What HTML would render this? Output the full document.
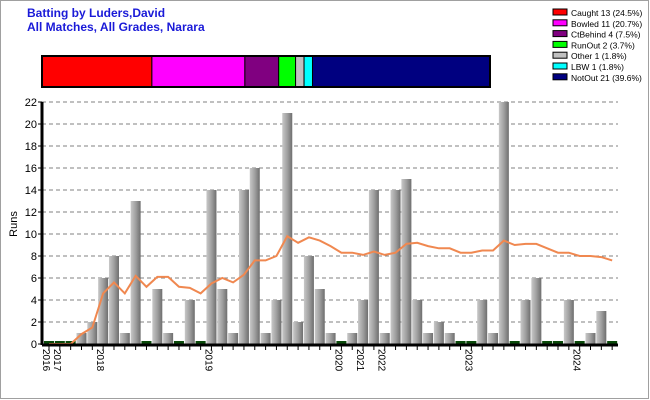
<!DOCTYPE html>
<html><head><meta charset="utf-8"><style>
body{margin:0;background:#fff;font-family:"Liberation Sans",Arial,sans-serif}
#wrap{position:relative;width:650px;height:400px;overflow:hidden}
</style></head><body>
<div id="wrap">
<svg id="chart" width="650" height="400" xmlns="http://www.w3.org/2000/svg">
<defs>
<linearGradient id="barGrad" x1="0" x2="1" y1="0" y2="0">
<stop offset="0" stop-color="#c8c8c8"/><stop offset="0.5" stop-color="#a0a0a0"/><stop offset="1" stop-color="#6e6e6e"/>
</linearGradient>
</defs>
<rect x="0.5" y="0.5" width="648" height="398" fill="#fff" stroke="#a0a0a0"/>
<text x="27" y="17" font-size="12" font-weight="bold" fill="#1a1ad8">Batting by Luders,David</text>
<text x="27" y="31" font-size="12" font-weight="bold" fill="#1a1ad8">All Matches, All Grades, Narara</text>
<g id="stack"></g>
<g id="legend"></g>
<g id="grid"></g>
<g id="bars"></g>
<g id="line"></g>
<g id="axes"></g>
<text transform="translate(17,224) rotate(-90)" text-anchor="middle" font-size="11" fill="#000">Runs</text>
</svg>
</div>
<script>
const runs=[0,0,0,1,2,6,8,1,13,0,5,1,0,4,0,14,5,1,14,16,1,4,21,2,8,5,1,0,1,4,14,1,14,15,4,1,2,1,0,0,4,1,22,0,4,6,0,0,4,0,1,3,0];
const avgLine=[0,0,0,0.9,1.5,4.6,5.6,4.6,6.2,5.2,6.1,6.1,5.2,5.1,4.6,5.5,6.0,5.6,6.3,7.6,7.6,8.0,9.8,9.2,9.7,9.4,8.9,8.3,8.3,8.1,8.4,8.1,8.3,9.1,9.2,8.9,8.7,8.7,8.3,8.3,8.5,8.5,9.4,9.0,9.1,9.1,8.7,8.3,8.3,8.0,8.0,7.9,7.6];
const yearLabels=["2016","2017","2018","2019","2020","2021","2022","2023","2024"];
const yearSlots=[0,1,5,15,27,29,31,39,49];
const yTicks=[0,2,4,6,8,10,12,14,16,18,20,22];
const dismissLabels=["Caught 13 (24.5%)","Bowled 11 (20.7%)","CtBehind 4 (7.5%)","RunOut 2 (3.7%)","Other 1 (1.8%)","LBW 1 (1.8%)","NotOut 21 (39.6%)"];
const dismissCounts=[13,11,4,2,1,1,21];
const dismissColors=["#ff0000","#ff00ff","#800080","#00ff00","#c0c0c0","#00ffff","#000080"];

const NS="http://www.w3.org/2000/svg";
function mk(tag,attrs,parent){const e=document.createElementNS(NS,tag);for(const k in attrs)e.setAttribute(k,attrs[k]);parent.appendChild(e);return e;}
const X0=42,X1=618,Y0=344,YT=102,YMAX=22;
const slot=(X1-X0-6)/ (runs.length-0.4);
const xs=i=>X0+7+i*10.83;
const ys=v=>Y0-(v/YMAX)*(Y0-YT);

// stacked bar
const stack=document.getElementById('stack');
const total=dismissCounts.reduce((a,b)=>a+b,0);
let sx=42;const SW=448;
dismissCounts.forEach((c,i)=>{const w=c/total*SW;
 const r=mk('rect',{x:sx,y:56,width:w,height:31,fill:dismissColors[i],stroke:'#000','stroke-width':1},stack);
 
 
 sx+=w;});
mk('rect',{x:42,y:56,width:SW,height:31,fill:'none',stroke:'#000','stroke-width':2},stack);

// legend
const lg=document.getElementById('legend');
dismissLabels.forEach((t,i)=>{const y=9+i*10.8;
 const r=mk('rect',{x:553,y:y,width:14,height:6,fill:dismissColors[i],stroke:'#000','stroke-width':1},lg);
 
 
 const tx=mk('text',{x:571,y:y+7,'font-size':8.5,fill:'#000'},lg);tx.textContent=t;
 
 
});

// grid + y ticks
const grid=document.getElementById('grid'),axes=document.getElementById('axes');
yTicks.forEach(v=>{const y=ys(v);
 if(v>0){const l=mk('line',{x1:X0,x2:X1,y1:y,y2:y,stroke:'#808080','stroke-dasharray':'4,3','stroke-width':1},grid);
 
 }
 mk('line',{x1:X0-4,x2:X0,y1:y,y2:y,stroke:'#000'},axes);
 const t=mk('text',{x:X0-5,y:y+4,'text-anchor':'end','font-size':11,fill:'#000'},axes);t.textContent=v;
 
 
});

// bars
const bars=document.getElementById('bars');
runs.forEach((v,i)=>{const cx=xs(i);
 let r;
 if(v===0){r=mk('rect',{x:cx-5,y:Y0-3,width:10,height:3,fill:'#0a4a0a'},bars);}
 else{r=mk('rect',{x:cx-5,y:ys(v),width:10,height:Y0-ys(v),fill:'url(#barGrad)'},bars);}
 
 
 mk('line',{x1:cx,x2:cx,y1:Y0,y2:Y0+6,stroke:'#000'},axes);
});

// avg line
const pl=mk('polyline',{points:avgLine.map((v,i)=>xs(i)+','+ys(v)).join(' '),fill:'none',stroke:'#f08850','stroke-width':2},document.getElementById('line'));



// axes lines
mk('line',{x1:X0,x2:X0,y1:YT,y2:Y0+1,stroke:'#000','stroke-width':3},axes);
mk('line',{x1:X0,x2:X1,y1:Y0+1,y2:Y0+1,stroke:'#000','stroke-width':3},axes);

// year labels
yearLabels.forEach((t,i)=>{const x=xs(yearSlots[i])-2;
 const tx=mk('text',{transform:'translate('+(x-4)+','+(Y0+5)+') rotate(90)','font-size':10,fill:'#000'},axes);
 tx.textContent=t;
 
 
});
</script>
</body></html>
